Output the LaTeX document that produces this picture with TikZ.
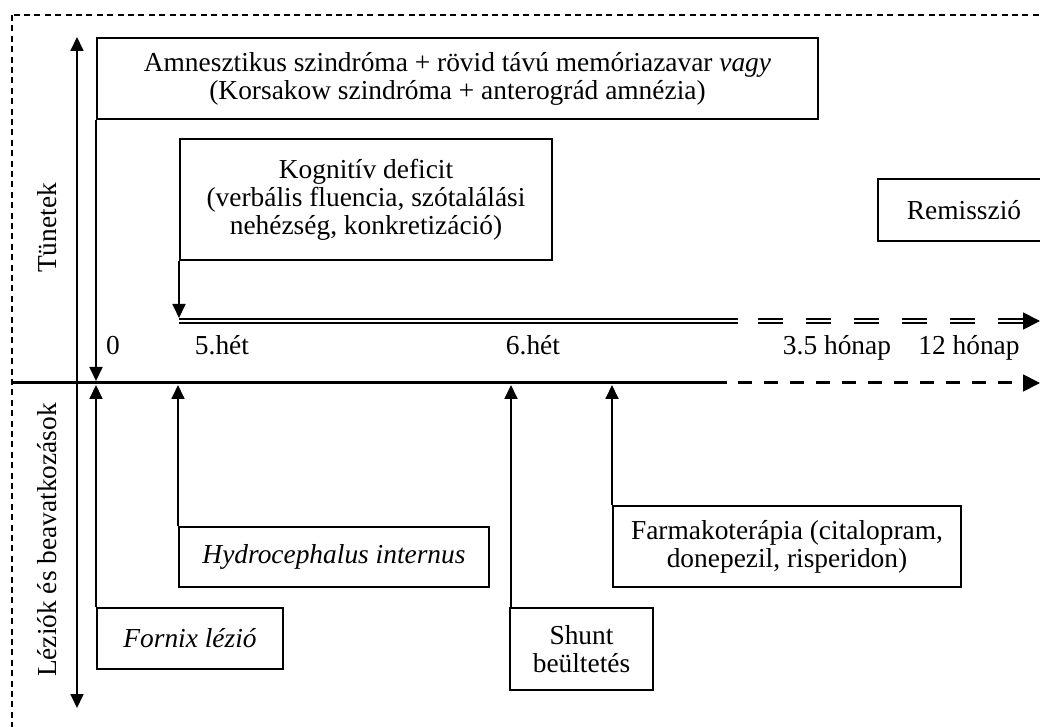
\documentclass[tikz,border=0pt]{standalone}
\usepackage{fontspec}
\setmainfont{Liberation Serif}
\usetikzlibrary{arrows.meta}
\begin{document}
\begin{tikzpicture}[x=0.5pt,y=-0.5pt,
  font=\fontsize{13.7}{14}\selectfont,
  box/.style={draw, line width=1pt, inner sep=0pt, align=center},
  conn/.style={line width=0.9pt},
  tip/.style={-{Triangle[length=7pt,width=6.5pt]}},
  dtip/.style={{Triangle[length=7pt,width=6.5pt]}-{Triangle[length=7pt,width=6.5pt]}},
  bigtip/.style={-{Triangle[length=8.5pt,width=8.5pt]}},
  axisline/.style={line width=1.5pt},
  dbl/.style={double, line width=1pt, double distance=1.1pt},
  frame/.style={line width=0.9pt, dash pattern=on 3pt off 2.2pt},
  lbl/.style={anchor=base, inner sep=0pt}]
\useasboundingbox (0,0) rectangle (1040,727);
\clip (0,0) rectangle (1040,727);

% outer dashed frame
\draw[frame] (12,15) rectangle (1070,760);

% coordinates
\coordinate (ax0) at (11,383);
\coordinate (axm) at (727,383);
\coordinate (axe) at (1040,383);
\coordinate (axt) at (0,381);
\coordinate (axb) at (0,385);
\coordinate (vtop) at (77,37);
\coordinate (vbot) at (77,708);
\coordinate (dlt) at (0,318);
\coordinate (dlm) at (738,321);
\coordinate (dlx) at (1023,321);
\coordinate (dle) at (1040,321);

% boxes
\node[box, minimum width=360.5pt, minimum height=40.5pt] (amn) at (457.5,78.5)
  {Amnesztikus szindróma + rövid távú memóriazavar \textit{vagy}\\(Korsakow szindróma + anterográd amnézia)};
\node[box, minimum width=186pt, minimum height=60.5pt] (kog) at (366,200)
  {Kognitív deficit\\(verbális fluencia, szótalálási\\nehézség, konkretizáció)};
\node[box, minimum width=86pt, minimum height=31pt] (rem) at (964,210) {Remisszió};
\node[box, minimum width=155pt, minimum height=30pt] (hyd) at (334,557) {\textit{Hydrocephalus internus}};
\node[box, minimum width=93pt, minimum height=30.5pt] (forn) at (190,638.5) {\textit{Fornix lézió}};
\node[box, minimum width=71.5pt, minimum height=41pt] (shunt) at (581.5,649) {Shunt\\beültetés};
\node[box, minimum width=174pt, minimum height=40.5pt] (farm) at (787,546.5) {Farmakoterápia (citalopram,\\donepezil, risperidon)};

% side labels
\node[rotate=90] (tun) at (47,228) {Tünetek};
\node[rotate=90] (lez) at (47,540) {Léziók és beavatkozások};

% time labels
\node[lbl] (l0) at (113,355) {0};
\node[lbl] (l5) at (222,355) {5.hét};
\node[lbl] (l6) at (533,355) {6.hét};
\node[lbl] (l35) at (837,355) {3.5 hónap};
\node[lbl] (l12) at (969,355) {12 hónap};

% vertical double arrow
\draw[conn,dtip] (vtop) -- (vbot);

% time axis
\draw[axisline] (ax0) -- (axm);
\draw[axisline, dash pattern=on 7pt off 6pt, dash phase=7.5pt] (axm) -- (1026,383);
\draw[conn,bigtip] (1024,383) -- (axe);

% symptom connectors
\draw[conn,tip] (amn.south west) -- (amn.south west |- axt);
\draw[conn,tip] (kog.south west) -- (kog.south west |- dlt);
\draw[dbl] (kog.south west |- dlm) -- (dlm);
\draw[dbl, dash pattern=on 12.5pt off 11.5pt, dash phase=14pt] (dlm) -- (dlx);
\draw[conn,bigtip] (dlx) -- (dle);

% lesion / intervention connectors
\draw[conn,tip] (forn.north west) -- (forn.north west |- axb);
\draw[conn,tip] (hyd.north west) -- (hyd.north west |- axb);
\draw[conn,tip] ([xshift=1pt]shunt.north west) -- ([xshift=1pt]shunt.north west |- axb);
\draw[conn,tip] (farm.north west) -- (farm.north west |- axb);
\end{tikzpicture}
\end{document}
